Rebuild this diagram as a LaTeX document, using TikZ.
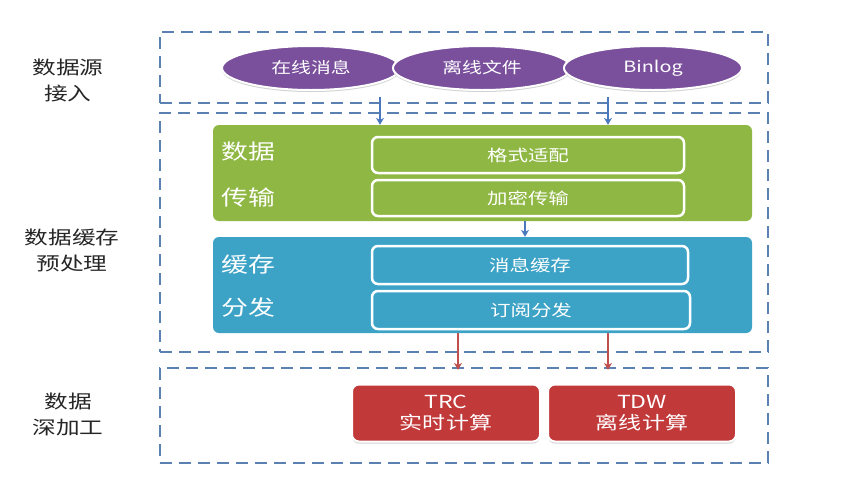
\documentclass[tikz,border=0pt]{standalone}
\usepackage{fontspec}
\setmainfont[FakeStretch=1.28]{Noto Sans CJK SC}
\usetikzlibrary{shapes.geometric,arrows.meta,shadows}
\definecolor{dashc}{HTML}{5B80B2}
\definecolor{purp}{HTML}{7A4F9C}
\definecolor{grn}{HTML}{8FB744}
\definecolor{blu}{HTML}{3CA3C6}
\definecolor{rd}{HTML}{C2393A}
\definecolor{barr}{HTML}{4A78BE}
\definecolor{rarr}{HTML}{C0504D}
\begin{document}
\begin{tikzpicture}[x=1pt,y=-1pt,
  dbox/.style={draw=dashc,line width=2.2pt,dash pattern=on 12pt off 7pt},
  oval/.style={ellipse,fill=purp,draw=white,line width=2pt,minimum width=178pt,minimum height=44pt,text=white,font=\fontsize{15.5}{15}\selectfont,
    drop shadow={shadow xshift=0pt,shadow yshift=-2pt,fill=black!35,opacity=0.5}},
  band/.style={rounded corners=6pt,minimum width=539pt,minimum height=96pt,draw=none},
  inbox/.style={rounded corners=6pt,draw=white,line width=2.5pt,minimum width=312pt,minimum height=36pt,text=white,font=\fontsize{16}{16}\selectfont},
  blab/.style={text=white,font=\fontsize{21}{21}\selectfont,anchor=west},
  sidelab/.style={align=center,font=\fontsize{18.5}{26}\selectfont,text=black!85},
  rbox/.style={rounded corners=7pt,fill=rd,draw=white,line width=2pt,minimum width=188pt,minimum height=57pt,text=white,align=center,font=\fontsize{18}{21}\selectfont,
    drop shadow={shadow xshift=0pt,shadow yshift=-2pt,fill=black!35,opacity=0.5}},
  barrow/.style={draw=barr,line width=2pt,-{Stealth[length=7pt,width=8pt]}},
  rarrow/.style={draw=rarr,line width=2pt,-{Stealth[length=7pt,width=8pt]}}]
\useasboundingbox (0,0) rectangle (864,477);
\fill[white] (0,0) rectangle (864,477);
% dashed containers
\node[dbox,minimum width=608pt,minimum height=71pt,inner sep=0pt] (L1) at (464,67.5) {};
\node[dbox,minimum width=608pt,minimum height=239pt,inner sep=0pt] (L2) at (464,232.5) {};
\node[dbox,minimum width=608pt,minimum height=95pt,inner sep=0pt] (L3) at (464,415.5) {};
% side labels
\node[sidelab] (s1) at (68,80) {数据源\\接入};
\node[sidelab] (s2) at (72,250) {数据缓存\\预处理};
\node[sidelab] (s3) at (68,414) {数据\\深加工};
% ovals
\node[oval] (e1) at (311,68) {在线消息};
\node[oval] (e2) at (482,68) {离线文件};
\node[oval] (e3) at (653,68) {Binlog};
% green band
\node[band,fill=grn] (G) at (482.5,173) {};
\node[blab] (g1) at (218,152) {数据};
\node[blab] (g2) at (218,197) {传输};
\node[inbox,fill=grn] (gb1) at (528,155) {格式适配};
\node[inbox,fill=grn] (gb2) at (528,198) {加密传输};
% blue band
\node[band,fill=blu] (B) at (482.5,285) {};
\node[blab] (b1) at (218,265) {缓存};
\node[blab] (b2) at (218,308) {分发};
\node[inbox,fill=blu,minimum width=316pt,minimum height=38pt] (bb1) at (530,265) {消息缓存};
\node[inbox,fill=blu,minimum width=318pt,minimum height=38pt] (bb2) at (531,310) {订阅分发};
% red boxes
\node[rbox] (r1) at (446,413) {TRC\\实时计算};
\node[rbox] (r2) at (642,413) {TDW\\离线计算};
% arrows
\coordinate (a1) at (380,97);
\coordinate (a2) at (608,97);
\draw[barrow] (a1) -- (G.north -| a1);
\draw[barrow] (a2) -- (G.north -| a2);
\coordinate (a3) at (525,221);
\draw[barrow] (G.south -| a3) -- (B.north -| a3);
\coordinate (a4) at (458,333);
\coordinate (a5) at (608,333);
\draw[rarrow] (B.south -| a4) -- ([yshift=-3pt]L3.north -| a4);
\draw[rarrow] (B.south -| a5) -- ([yshift=-3pt]L3.north -| a5);
\end{tikzpicture}
\end{document}
